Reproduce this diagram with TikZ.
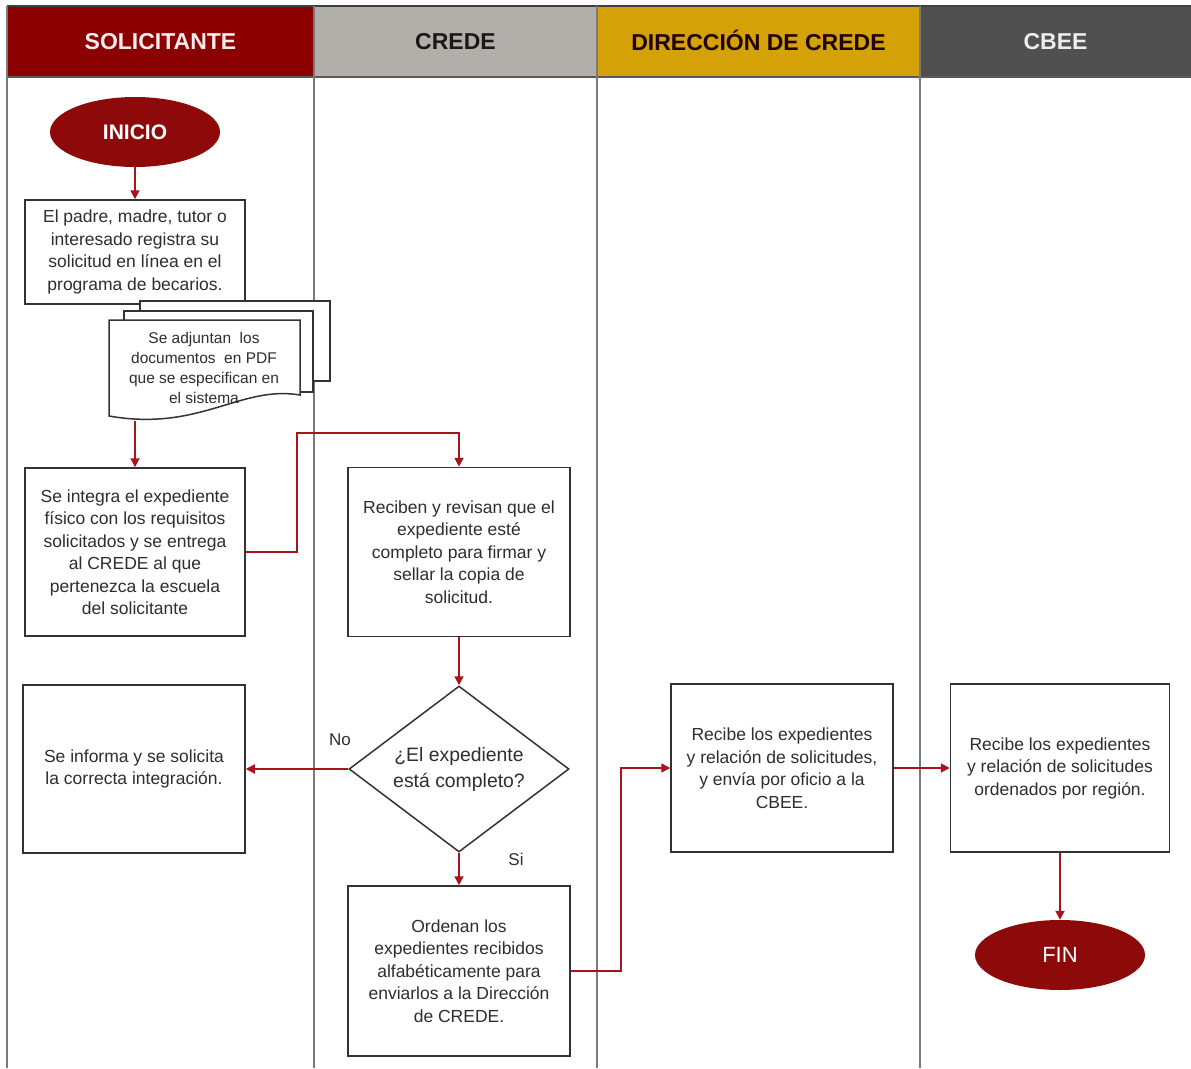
\documentclass[tikz,border=0pt]{standalone}
\usepackage{fontspec}
\setmainfont{Liberation Sans}
\usetikzlibrary{arrows.meta,shapes.geometric}
\definecolor{hdrred}{HTML}{8B0000}
\definecolor{hdrgray}{HTML}{B2AFAB}
\definecolor{hdrgold}{HTML}{D4A106}
\definecolor{hdrdark}{HTML}{505050}
\definecolor{lanegray}{HTML}{7A7A7A}
\definecolor{boxline}{HTML}{333333}
\definecolor{txtgray}{HTML}{2E2E2E}
\definecolor{arrred}{HTML}{A8141E}
\definecolor{ovalred}{HTML}{8E0A0A}
\tikzset{
  hdr/.style={draw=none, minimum height=71pt, inner sep=0pt, font=\fontsize{23}{26}\selectfont\bfseries},
  lane/.style={draw=lanegray, line width=2.2pt},
  procbox/.style={draw=boxline, line width=1.5pt, fill=white, align=center, inner sep=0pt, text=txtgray, font=\fontsize{17.5}{22.5}\selectfont},
  terminal/.style={ellipse, fill=ovalred, draw=none, minimum width=170pt, minimum height=70pt, inner sep=0pt, text=white},
  decision/.style={diamond, aspect=1.325, draw=boxline, line width=1.5pt, fill=white, align=center, inner sep=0pt, minimum width=220pt, minimum height=166pt, text=txtgray, font=\fontsize{19.4}{26}\selectfont},
  arr/.style={draw=arrred, line width=1.8pt, -{Triangle[width=9pt,length=9pt]}},
  lbl/.style={text=txtgray, font=\fontsize{17}{20}\selectfont, inner sep=0pt},
  docpage/.style={draw=boxline, line width=1.5pt, fill=white}
}
\begin{document}
\begin{tikzpicture}[x=1pt,y=-1pt]
\useasboundingbox (0,0) rectangle (1191,1068);
\fill[white] (0,0) rectangle (1191,1068);
% headers
\node[hdr, fill=hdrred, text=white!92!red, minimum width=307pt] (h1) at (160.5,41.5) {SOLICITANTE};
\node[hdr, fill=hdrgray, text=black!90, minimum width=283pt] (h2) at (455.5,41.5) {CREDE};
\node[hdr, fill=hdrgold, text={black!80!red!60!black}, minimum width=323pt] (h3) at (758.5,40.5) {DIRECCIÓN DE CREDE};
\node[hdr, fill=hdrdark, text=white!93!black, minimum width=271pt] (h4) at (1055.5,41.5) {CBEE};
\draw[black!75, line width=1.5pt] (7,6) -- (1191,6);
\draw[black!65, line width=2pt] (7,77) -- (1191,77);
% lane dividers
\draw[lane] (7,6) -- (7,1068);
\draw[lane] (314,6) -- (314,1068);
\draw[lane] (597,6) -- (597,1068);
\draw[lane] (920,6) -- (920,1068);
% nodes
\node[terminal, font=\fontsize{21}{24}\selectfont\bfseries] (inicio) at (135,132) {INICIO};
\node[procbox, minimum width=220pt, minimum height=104pt] (b1) at (135,252)
  {El padre, madre, tutor o\\interesado registra su\\solicitud en línea en el\\programa de becarios.};
% multi-document
\draw[docpage] (140,301) rectangle (330,381);
\draw[docpage] (124,311) rectangle (313,392);
\draw[docpage] (109,320) -- (300,320) -- (300,395) .. controls (240,385) and (200,432) .. (109,416) -- cycle;
\node[align=center, text=txtgray, font=\fontsize{15.5}{20.3}\selectfont, inner sep=0pt] (doctext) at (204,368)
  {Se adjuntan\ \ los\\documentos\ \ en PDF\\que se especifican en\\el sistema};
\coordinate (docb) at (135,421);
\node[procbox, minimum width=220pt, minimum height=168pt] (b2) at (135,552)
  {Se integra el expediente\\físico con los requisitos\\solicitados y se entrega\\al CREDE al que\\pertenezca la escuela\\del solicitante};
\node[procbox, minimum width=222pt, minimum height=168pt] (b3) at (134,769)
  {Se informa y se solicita\\la correcta integración.};
\node[procbox, minimum width=222pt, minimum height=169pt] (b4) at (459,552)
  {Reciben y revisan que el\\expediente esté\\completo para firmar y\\sellar la copia de\\solicitud.};
\node[decision] (dec) at (459,769) {¿El expediente\\está completo?};
\node[procbox, minimum width=222pt, minimum height=170pt] (b5) at (459,971)
  {Ordenan los\\expedientes recibidos\\alfabéticamente para\\enviarlos a la Dirección\\de CREDE.};
\node[procbox, minimum width=222pt, minimum height=168pt] (b6) at (782,768)
  {Recibe los expedientes\\y relación de solicitudes,\\y envía por oficio a la\\CBEE.};
\node[procbox, minimum width=219pt, minimum height=168pt] (b7) at (1060,768)
  {Recibe los expedientes\\y relación de solicitudes\\ordenados por región.};
\node[terminal, font=\fontsize{22}{24}\selectfont] (fin) at (1060,955) {FIN};
% labels
\node[lbl] (lno) at (340,740) {No};
\node[lbl] (lsi) at (516,859) {Si};
% connectors
\draw[arr] (inicio) -- (b1);
\draw[arr] (docb) -- (b2);
\draw[arr] (b2.east) -- (297,552) -- (297,433) -| (b4.north);
\draw[arr] (b4) -- (dec);
\draw[arr] (dec.west) -- (b3.east);
\draw[arr] (dec.south) -- (b5.north);
\draw[arr] (b5.east) -- (621,971) |- (b6.west);
\draw[arr] (b6.east) -- (b7.west);
\draw[arr] (b7) -- (fin);
\end{tikzpicture}
\end{document}
